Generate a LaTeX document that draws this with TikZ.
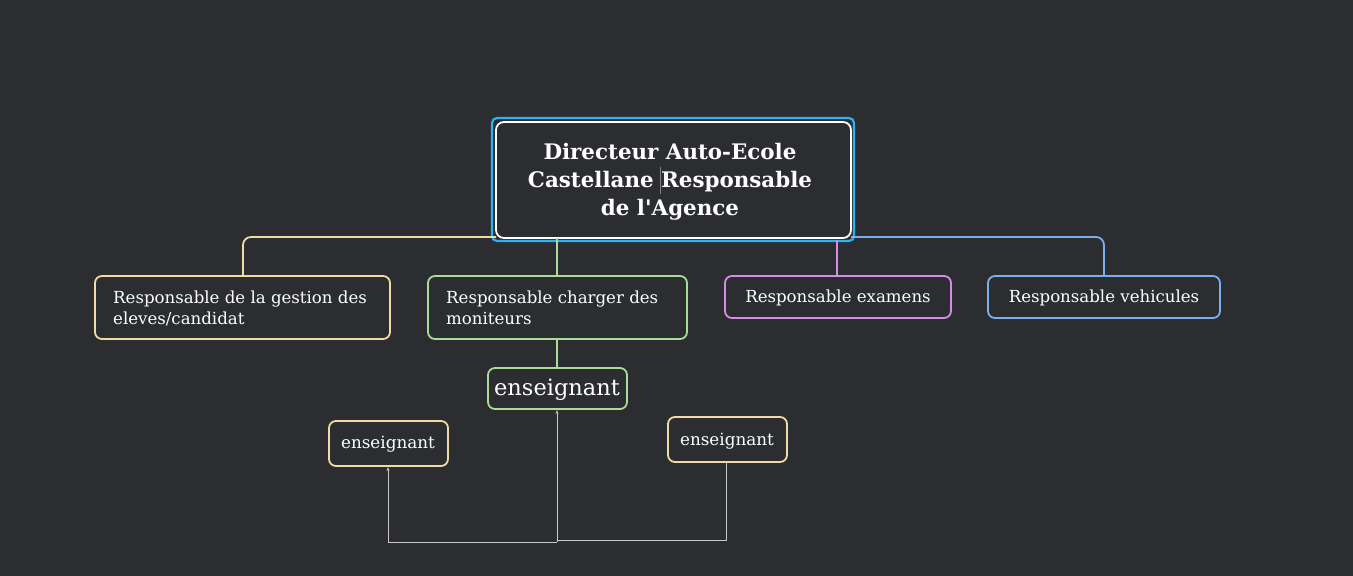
\documentclass[tikz,border=0pt]{standalone}
\usepackage{fontspec}
\setmainfont{DejaVu Serif}[Ligatures=TeXOff]
\usetikzlibrary{arrows.meta}
\definecolor{bg}{RGB}{43,45,49}
\definecolor{cblue}{RGB}{45,180,240}
\definecolor{cyel}{RGB}{240,220,160}
\definecolor{cgreen}{RGB}{170,220,150}
\definecolor{cpurp}{RGB}{215,140,232}
\definecolor{clblue}{RGB}{122,176,240}
\definecolor{cgray}{RGB}{200,200,200}
\tikzset{
  box/.style={draw=#1, line width=1.8pt, rounded corners=7pt, text=white, inner sep=0pt},
  lbl/.style={font=\fontsize{16.6}{21}\selectfont, text=white, align=left, anchor=west, inner sep=0pt},
  conn/.style={draw=#1, line width=1.8pt, rounded corners=8pt},
  garr/.style={draw=cgray, line width=0.9pt, -{Stealth[length=4pt,width=3pt]}},
}
\begin{document}
\begin{tikzpicture}[x=1pt,y=-1pt]
\fill[bg] (0,0) rectangle (1353,576);
\useasboundingbox (0,0) rectangle (1353,576);
% root
\draw[cblue, line width=2.2pt, rounded corners=5pt] (492,118) rectangle (854,241);
\draw[white, line width=1.8pt, rounded corners=8pt] (496,122) rectangle (851,238);
\node[font=\bfseries\fontsize{21.4}{28}\selectfont, text=white, align=center] (root) at (670,182) {Directeur Auto-Ecole\\Castellane Responsable\\de l'Agence};
\coordinate (rootL) at (496,237);
\coordinate (rootR) at (851,237);
\coordinate (rootB1) at (557,238);
\coordinate (rootB2) at (837,240);
% children boxes
\path[box=cyel] (95,276) rectangle (390,339);
\coordinate (c1) at (243,276);
\node[lbl] (t1) at (113,308) {Responsable de la gestion des\\eleves/candidat};
\path[box=cgreen] (428,276) rectangle (687,339);
\coordinate (c2) at (557,276);
\coordinate (c2b) at (557,339);
\node[lbl] (t2) at (446,308) {Responsable charger des\\moniteurs};
\path[box=cpurp] (725,276) rectangle (951,318);
\coordinate (c3) at (837,276);
\node[lbl, anchor=center] (t3) at (838,297.5) {Responsable examens};
\path[box=clblue] (988,276) rectangle (1220,318);
\coordinate (c4) at (1104,276);
\node[lbl, anchor=center] (t4) at (1104,297.5) {Responsable vehicules};
% connectors
\draw[conn=cyel] (rootL) -| (c1);
\draw[conn=cgreen] (rootB1) -- (c2);
\draw[conn=cpurp] (rootB2) -- (c3);
\draw[conn=clblue] (rootR) -| (c4);
% enseignant
\path[box=cgreen] (488,368) rectangle (627,409);
\node[font=\fontsize{22.5}{26}\selectfont, text=white] (e0) at (557,390) {enseignant};
\coordinate (e0t) at (557,368);
\coordinate (e0b) at (557,410);
\draw[conn=cgreen] (c2b) -- (e0t);
\path[box=cyel] (329,421) rectangle (448,466);
\node[font=\fontsize{16.8}{20}\selectfont, text=white] (e1) at (388,444) {enseignant};
\coordinate (e1b) at (388,467);
\path[box=cyel] (668,417) rectangle (787,462);
\node[font=\fontsize{16.8}{20}\selectfont, text=white] (e2) at (727,441) {enseignant};
\coordinate (e2b) at (726,463);
\coordinate (m) at (557,542);
\draw[garr] (m) -- (e0b);
\draw[garr] (m) -- (388,542) -- (e1b);
\draw[cgray, line width=0.9pt] (e2b) -- (726,540.5) -- (557,540.5);
\draw[gray, line width=0.6pt] (660,167) -- (660,194);
\end{tikzpicture}
\end{document}
